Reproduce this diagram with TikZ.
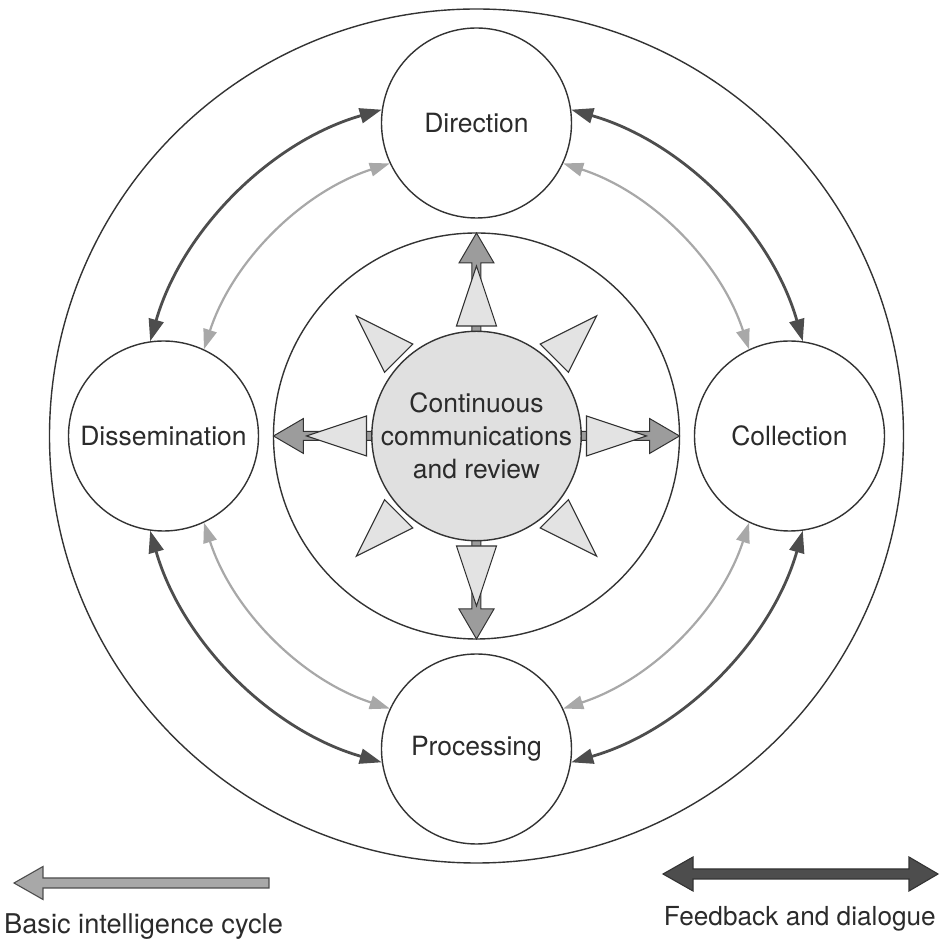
\documentclass[tikz,border=0pt]{standalone}
\usepackage{fontspec}
\setmainfont{TeX Gyre Heros}
\usetikzlibrary{arrows.meta}

\definecolor{ink}{HTML}{333333}
\definecolor{txt}{HTML}{2B2B2B}
\definecolor{fbcol}{HTML}{4D4D4D}
\definecolor{cyccol}{HTML}{A8A8A8}
\definecolor{hubfill}{HTML}{E0E0E0}
\definecolor{rayfill}{HTML}{E3E3E3}
\definecolor{spokefill}{HTML}{9C9C9C}

\begin{document}
\begin{tikzpicture}[x=1pt,y=1pt,
  lbl/.style={text=txt, font=\fontsize{26.5}{33}\selectfont},
  keylbl/.style={text=txt, font=\fontsize{27.2}{33}\selectfont},
  ring/.style={circle, draw=ink, line width=1.4pt, inner sep=0pt},
  stage/.style={ring, fill=white, minimum size=190pt, lbl},
  feedback/.style={draw=fbcol, line width=2.8pt, looseness=0.9,
    {Triangle[length=22pt,width=15pt]}-{Triangle[length=22pt,width=15pt]}},
  cycarrow/.style={draw=cyccol, line width=2.2pt, looseness=0.9,
    {Triangle[length=20pt,width=13.5pt]}-{Triangle[length=20pt,width=13.5pt]}},
  spoke/.style={fill=spokefill, draw=ink, line width=1pt, line join=miter},
  ray/.style={fill=rayfill, draw=ink, line width=1.1pt, line join=miter},
]
\useasboundingbox (-476.5,-505) rectangle (466.5,436);

% concentric rings
\node[ring, minimum size=854pt] (outer) at (0,0) {};
\node[ring, minimum size=406pt] (inner) at (0,0) {};

% the four stages of the cycle
\node[stage] (dir) at (0,313)  {Direction};
\node[stage] (col) at (313,0)  {Collection};
\node[stage] (dis) at (-313,0) {Dissemination};
\node[stage] (pro) at (0,-313) {Processing};

% feedback and dialogue (outer arcs)
\draw[feedback] (col.82)  to[out=106, in=344] (dir.8);
\draw[feedback] (dir.172) to[out=196, in=74]  (dis.98);
\draw[feedback] (dis.262) to[out=286, in=164] (pro.188);
\draw[feedback] (pro.352) to[out=16,  in=254] (col.278);

% basic intelligence cycle (inner arcs)
\draw[cycarrow] (col.115) to[out=108, in=342] (dir.335);
\draw[cycarrow] (dir.205) to[out=198, in=72]  (dis.65);
\draw[cycarrow] (dis.295) to[out=288, in=162] (pro.155);
\draw[cycarrow] (pro.25)  to[out=18,  in=252] (col.245);

% block arrows from the hub to the inner ring
\foreach \ang in {0,90,180,270}{
  \begin{scope}[rotate=\ang]
    \path[spoke] (101,-4.5) -- (173,-4.5) -- (173,-17.5) -- (203,0)
      -- (173,17.5) -- (173,4.5) -- (101,4.5) -- cycle;
  \end{scope}
}

% hub
\node[ring, fill=hubfill, minimum size=204pt, align=center, lbl] (hub) at (0,0)
  {Continuous\\communications\\and review};

% rays around the hub
\foreach \ang in {0,45,...,315}{
  \begin{scope}[rotate=\ang]
    \path[ray] (110,-20) -- (170,0) -- (110,20) -- cycle;
  \end{scope}
}

% legend
\path[fill=cyccol, draw=fbcol, line width=1.1pt, line join=miter]
  (-462.5,-447) -- (-433.5,-430.5) -- (-433.5,-442) -- (-207.5,-442)
  -- (-207.5,-452) -- (-433.5,-452) -- (-433.5,-463.5) -- cycle;
\node[anchor=base west, inner sep=0pt, keylbl] (lcyc) at (-472.5,-498)
  {Basic intelligence cycle};

\path[fill=fbcol, draw=ink, line width=1.1pt, line join=miter]
  (186.5,-438) -- (216.5,-421) -- (216.5,-433) -- (432.5,-433)
  -- (432.5,-421) -- (461.5,-438) -- (432.5,-455) -- (432.5,-443)
  -- (216.5,-443) -- (216.5,-455) -- cycle;
\node[anchor=base east, inner sep=0pt, lbl, font=\fontsize{26.2}{33}\selectfont]
  (lfbk) at (459.5,-490) {Feedback and dialogue};
\end{tikzpicture}
\end{document}
